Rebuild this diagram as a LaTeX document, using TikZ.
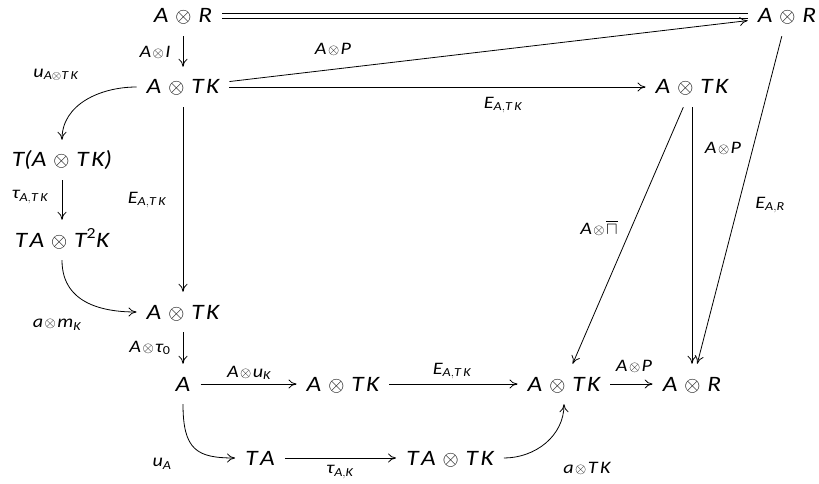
\documentclass[tikz,border=0pt]{standalone}
\usepackage{amsmath}
\usepackage{amssymb}
\usepackage{fontspec}
\setmainfont{Carlito}[FakeStretch=1.15]
\usetikzlibrary{arrows.meta}
% italic letters, each set as its own box as in math italic
\newcommand\m[1]{\textit{#1}}
\newcommand\tk{\m{T}\kern2.5pt\m{K}}
\newcommand\ta{\m{T}\kern2.5pt\m{A}}
% tensor sign used inside arrow labels
\newcommand\lo{\mkern1.5mu\hbox{\fontsize{15}{15}\selectfont$\otimes$}\mkern1.5mu}

\begin{document}
\begin{tikzpicture}[x=1pt,y=-1pt,
  obj/.style={anchor=base, font=\fontsize{22}{26}\selectfont,
    execute at begin node={\medmuskip=6mu plus 2mu minus 4mu},
    text height=18pt, text depth=4pt, inner xsep=10pt, inner ysep=9pt},
  lbl/.style={font=\fontsize{17.5}{19}\selectfont, inner sep=1pt},
  arr/.style={line width=0.8pt, -{To[length=8pt,width=9pt]}},
  eqline/.style={line width=0.8pt},
]
\fill[white] (0,0) rectangle (819,484);
\useasboundingbox (0,0) rectangle (819,484);

% objects
\node[obj] (n1)  at (183,23)  {$\m{A}\otimes\m{R}$};
\node[obj] (n2)  at (787,23)  {$\m{A}\otimes\m{R}$};
\node[obj] (n3)  at (183,94)  {$\m{A}\otimes\tk$};
\node[obj] (n4)  at (692,94)  {$\m{A}\otimes\tk$};
\node[obj] (n5)  at (62,167)  {$\m{T}\m{(}\m{A}\otimes\tk\m{)}$};
\node[obj] (n6)  at (62,247)  {$\ta\otimes\m{T}^{\text{2}}\m{K}$};
\node[obj] (n7)  at (183,319) {$\m{A}\otimes\tk$};
\node[obj] (n8)  at (183,391) {$\m{A}$};
\node[obj] (n9)  at (343,391) {$\m{A}\otimes\tk$};
\node[obj] (n10) at (564,391) {$\m{A}\otimes\tk$};
\node[obj] (n11) at (692,391) {$\m{A}\otimes\m{R}$};
\node[obj] (n12) at (260,465) {$\ta$};
\node[obj] (n13) at (450,465) {$\ta\otimes\tk$};

% morphisms
\draw[eqline] ([yshift=2.6pt]n1.east) -- ([yshift=2.6pt]n2.west);
\draw[eqline] ([yshift=-2.6pt]n1.east) -- ([yshift=-2.6pt]n2.west);
\draw[arr] (n1) -- (n3);
\draw[arr] (n3) -- (n2);
\draw[arr] (n3) -- (n4);
\draw[arr] (n3) -- (n7);
\draw[arr] (n3.west) to[out=180,in=90] (n5.north);
\draw[arr] (n5) -- (n6);
\draw[arr] (n6.south) to[out=-90,in=180,out looseness=1.3,in looseness=0.8] (n7.west);
\draw[arr] (n7) -- (n8);
\draw[arr] (n8) -- (n9);
\draw[arr] (n9) -- (n10);
\draw[arr] (n10) -- (n11);
\draw[arr] (n8.south) .. controls +(0,46) and +(-38,0) .. (n12.west);
\draw[arr] (n12) -- (n13);
\draw[arr] (n13.east) to[out=0,in=-90] (n10.south);
\draw[arr] (n4) -- (n10);
\draw[arr] (n4) -- (n11);
\draw[arr] (n2) -- (n11);

% labels
\node[lbl] (l1)  at (155,52)  {$\m{A}\lo\m{I}$};
\node[lbl] (l2)  at (333,49)  {$\m{A}\lo\m{P}$};
\node[lbl] (l3)  at (56,75)   {$\m{u}_{\m{A}{\otimes}\tk}$};
\node[lbl] (l4)  at (503,105) {$\m{E}_{\m{A},\tk}$};
\node[lbl] (l5)  at (147,200) {$\m{E}_{\m{A},\tk}$};
\node[lbl] (l6)  at (30,197)  {$\m{τ}_{\m{A},\tk}$};
\node[lbl] (l7)  at (57,325)  {$\m{a}\lo\m{m}_{\m{K}}$};
\node[lbl] (l8)  at (150,348) {$\m{A}\lo\m{τ}_{\text{0}}$};
\node[lbl] (l9)  at (249,373) {$\m{A}\lo\m{u}_{\m{K}}$};
\node[lbl] (l10) at (452,371) {$\m{E}_{\m{A},\tk}$};
\node[lbl] (l11) at (162,464) {$\m{u}_{\m{A}}$};
\node[lbl] (l12) at (340,472) {$\m{τ}_{\m{A},\m{K}}$};
\node[lbl] (l13) at (587,468) {$\m{a}\lo\tk$};
\node[lbl] (l14) at (634,366) {$\m{A}\lo\m{P}$};
\node[lbl] (l15) at (599,228) {$\m{A}\lo\overline{\sqcap\vphantom{\m{A}}}$};
\node[lbl] (l16) at (723,148) {$\m{A}\lo\m{P}$};
\node[lbl] (l17) at (770,205) {$\m{E}_{\m{A},\m{R}}$};
\end{tikzpicture}
\end{document}
